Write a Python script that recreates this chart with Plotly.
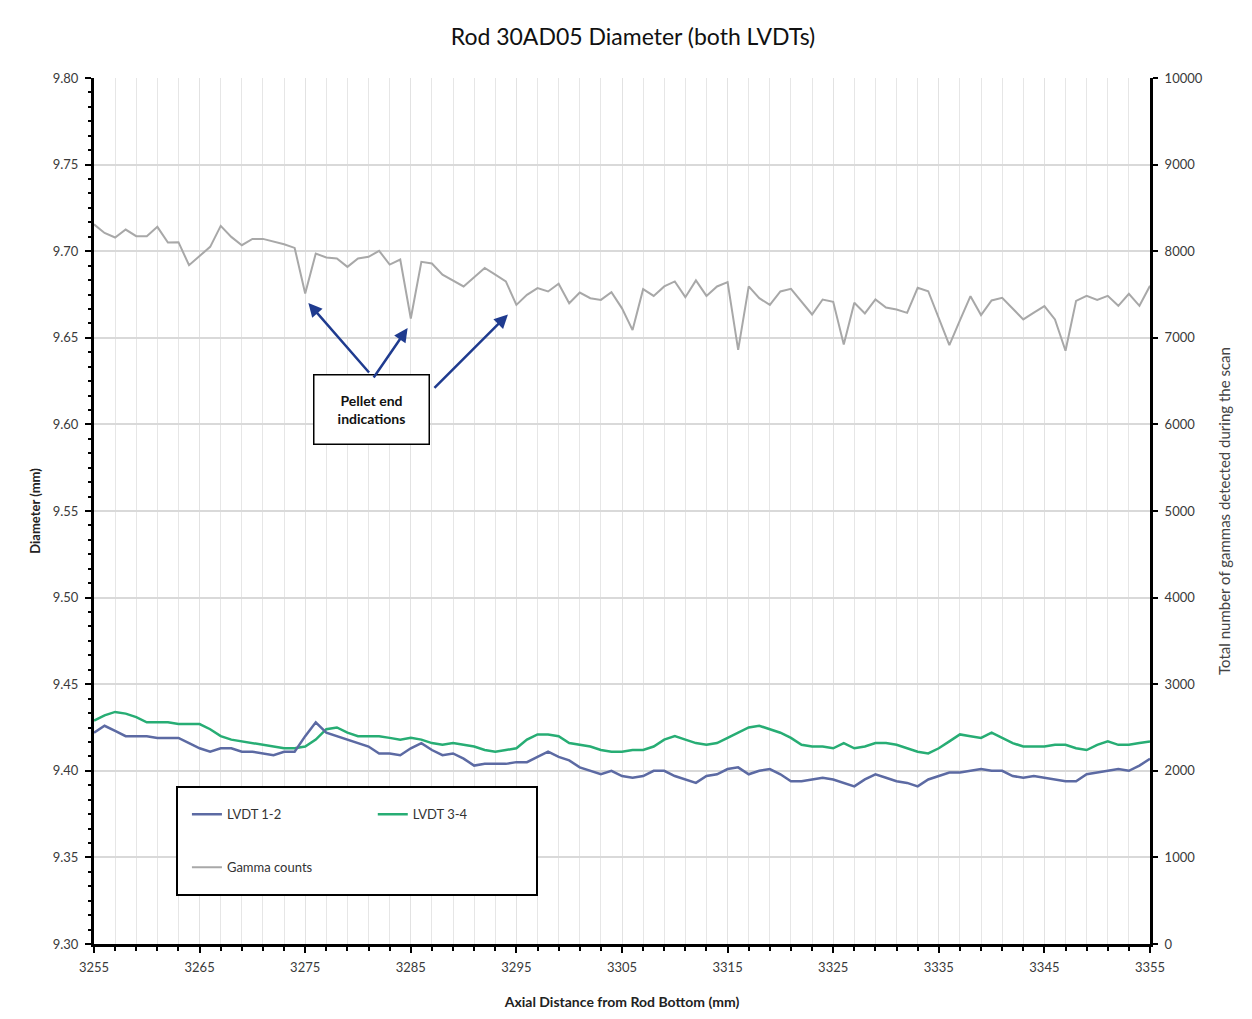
import plotly.graph_objects as go

# Axial positions of the scan (mm from rod bottom), 1 mm steps
axial_mm = list(range(3255, 3356))

# Diameter from LVDT pair 1-2 (mm)
lvdt_12 = [
    9.422, 9.426, 9.423, 9.420, 9.420, 9.420, 9.419, 9.419, 9.419, 9.416,
    9.413, 9.411, 9.413, 9.413, 9.411, 9.411, 9.410, 9.409, 9.411, 9.411,
    9.420, 9.428, 9.422, 9.420, 9.418, 9.416, 9.414, 9.410, 9.410, 9.409,
    9.413, 9.416, 9.412, 9.409, 9.410, 9.407, 9.403, 9.404, 9.404, 9.404,
    9.405, 9.405, 9.408, 9.411, 9.408, 9.406, 9.402, 9.400, 9.398, 9.400,
    9.397, 9.396, 9.397, 9.400, 9.400, 9.397, 9.395, 9.393, 9.397, 9.398,
    9.401, 9.402, 9.398, 9.400, 9.401, 9.398, 9.394, 9.394, 9.395, 9.396,
    9.395, 9.393, 9.391, 9.395, 9.398, 9.396, 9.394, 9.393, 9.391, 9.395,
    9.397, 9.399, 9.399, 9.400, 9.401, 9.400, 9.400, 9.397, 9.396, 9.397,
    9.396, 9.395, 9.394, 9.394, 9.398, 9.399, 9.400, 9.401, 9.400, 9.403,
    9.407,
]

# Diameter from LVDT pair 3-4 (mm)
lvdt_34 = [
    9.429, 9.432, 9.434, 9.433, 9.431, 9.428, 9.428, 9.428, 9.427, 9.427,
    9.427, 9.424, 9.420, 9.418, 9.417, 9.416, 9.415, 9.414, 9.413, 9.413,
    9.414, 9.418, 9.424, 9.425, 9.422, 9.420, 9.420, 9.420, 9.419, 9.418,
    9.419, 9.418, 9.416, 9.415, 9.416, 9.415, 9.414, 9.412, 9.411, 9.412,
    9.413, 9.418, 9.421, 9.421, 9.420, 9.416, 9.415, 9.414, 9.412, 9.411,
    9.411, 9.412, 9.412, 9.414, 9.418, 9.420, 9.418, 9.416, 9.415, 9.416,
    9.419, 9.422, 9.425, 9.426, 9.424, 9.422, 9.419, 9.415, 9.414, 9.414,
    9.413, 9.416, 9.413, 9.414, 9.416, 9.416, 9.415, 9.413, 9.411, 9.410,
    9.413, 9.417, 9.421, 9.420, 9.419, 9.422, 9.419, 9.416, 9.414, 9.414,
    9.414, 9.415, 9.415, 9.413, 9.412, 9.415, 9.417, 9.415, 9.415, 9.416,
    9.417,
]

# Total gamma counts detected at each position
gamma_counts = [
    8310, 8210, 8158, 8250, 8173, 8173, 8281, 8100, 8104, 7838,
    7945, 8050, 8292, 8165, 8069, 8142, 8142, 8115, 8080, 8038,
    7512, 7973, 7927, 7915, 7819, 7915, 7935, 8004, 7846, 7904,
    7223, 7877, 7858, 7730, 7660, 7593, 7700, 7806, 7730, 7651,
    7380, 7496, 7574, 7535, 7624, 7399, 7523, 7457, 7438, 7527,
    7340, 7089, 7562, 7484, 7593, 7651, 7469, 7663, 7484, 7593,
    7643, 6860, 7593, 7457, 7380, 7535, 7565, 7420, 7269, 7442,
    7415, 6923, 7404, 7281, 7442, 7350, 7327, 7288, 7577, 7538,
    7230, 6915, 7200, 7481, 7262, 7431, 7462, 7340, 7212, 7290,
    7365, 7212, 6850, 7427, 7485, 7438, 7485, 7369, 7508, 7369,
    7600,
]

# Pellet ends flagged with arrows
pellet_ends = [3275, 3285, 3295]

x_ticks = list(range(3255, 3356, 10))
y_ticks = [9.30, 9.35, 9.40, 9.45, 9.50, 9.55, 9.60, 9.65, 9.70, 9.75, 9.80]
y2_ticks = list(range(0, 10001, 1000))

FONT = "Lato"
BLUE = "#5c6aa3"
GREEN = "#27ad74"
GREY = "#a8a8a8"
TICKCOL = "#3a3a3a"

fig = go.Figure()

fig.add_trace(go.Scatter(
    x=axial_mm, y=gamma_counts, name="Gamma counts", mode="lines",
    line=dict(color=GREY, width=2), yaxis="y2",
    legend="legend", legendgroup="g", legendrank=3,
))
fig.add_trace(go.Scatter(
    x=axial_mm, y=lvdt_34, name="LVDT 3-4", mode="lines",
    line=dict(color=GREEN, width=2.5),
    legend="legend2", legendgroup="b",
))
fig.add_trace(go.Scatter(
    x=axial_mm, y=lvdt_12, name="LVDT 1-2", mode="lines",
    line=dict(color=BLUE, width=2.5),
    legend="legend", legendgroup="a", legendrank=1,
))

legend_style = dict(
    orientation="v", xanchor="left", yanchor="top",
    bgcolor="rgba(0,0,0,0)", borderwidth=0,
    font=dict(family=FONT, size=13, color="#333333"),
    itemwidth=30, tracegroupgap=33, traceorder="grouped",
)

fig.update_layout(
    width=1252, height=1019,
    margin=dict(l=94, r=102, t=78, b=75),
    paper_bgcolor="white", plot_bgcolor="white",
    font=dict(family=FONT, size=13, color=TICKCOL),
    title=dict(
        text="Rod 30AD05 Diameter (both LVDTs)",
        x=(633 / 1252), xanchor="center", y=1 - 37 / 1019, yanchor="middle",
        font=dict(family=FONT, size=23, color="#111111"),
    ),
    legend=dict(x=0.088, y=0.167, **legend_style),
    legend2=dict(x=0.264, y=0.167, **legend_style),
    xaxis=dict(
        range=[3255, 3355], tickmode="array", tickvals=x_ticks,
        ticks="outside", ticklen=6, tickwidth=2, tickcolor="black",
        showline=True, linecolor="black", linewidth=3,
        showgrid=True, gridcolor="#e2e2e2", gridwidth=1,
        minor=dict(dtick=2, tick0=3255, ticks="outside", ticklen=4,
                   tickwidth=2, tickcolor="black",
                   showgrid=True, gridcolor="#e6e6e6", gridwidth=1),
        tickfont=dict(family=FONT, size=13, color=TICKCOL),
        ticklabelstandoff=3,
        zeroline=False,
        title=dict(text="<b>Axial Distance from Rod Bottom (mm)</b>",
                   font=dict(family=FONT, size=14, color="#222222"),
                   standoff=24),
    ),
    yaxis=dict(
        range=[9.30, 9.80], tickmode="array", tickvals=y_ticks,
        tickformat=".2f",
        ticks="outside", ticklen=6, tickwidth=2, tickcolor="black",
        showline=True, linecolor="black", linewidth=3,
        showgrid=True, gridcolor="#d9d9d9", gridwidth=1.5,
        minor=dict(dtick=0.05 / 6, tick0=9.30, ticks="outside", ticklen=3,
                   tickwidth=2, tickcolor="black", showgrid=False),
        tickfont=dict(family=FONT, size=13, color=TICKCOL),
        ticklabelstandoff=4,
        zeroline=False,
        title=dict(text="<b>Diameter (mm)</b>",
                   font=dict(family=FONT, size=13, color="#222222"),
                   standoff=10),
    ),
    yaxis2=dict(
        range=[0, 10000], tickmode="array", tickvals=y2_ticks,
        ticktext=[str(v) for v in y2_ticks],
        overlaying="y", side="right",
        ticks="outside", ticklen=5, tickwidth=2, tickcolor="black",
        showline=True, linecolor="black", linewidth=3,
        showgrid=False, zeroline=False,
        tickfont=dict(family=FONT, size=13, color=TICKCOL),
        ticklabelstandoff=4,
        title=dict(text="Total number of gammas detected during the scan",
                   font=dict(family=FONT, size=15, color="#444444"),
                   standoff=18),
    ),
)

# Frame around the legend entries
fig.add_shape(
    type="rect", xref="paper", yref="paper",
    x0=(177 - 94) / 1056, x1=(537 - 94) / 1056,
    y0=(944 - 895) / 866, y1=(944 - 787) / 866,
    line=dict(color="black", width=2), fillcolor="white", layer="above",
)

# Callout box and arrows to the pellet-end dips in the gamma trace
fig.add_annotation(
    x=3281.3, y=9.6085, xref="x", yref="y",
    text="<b>Pellet end<br>indications</b>", showarrow=False,
    font=dict(family=FONT, size=14, color="#111111"),
    bgcolor="white", bordercolor="black", borderwidth=1.5,
    width=112, height=66, align="center",
)
arrow_tails = [(62, 71), (-35, 51), (-75, 75)]
tip_shift = [0.3, -0.3, -0.8]
idx = {v: i for i, v in enumerate(axial_mm)}
for pe, (ax, ay), dx in zip(pellet_ends, arrow_tails, tip_shift):
    fig.add_annotation(
        x=pe + dx, y=gamma_counts[idx[pe]] - 110, xref="x", yref="y2",
        text="", showarrow=True, arrowhead=2, arrowsize=1.1,
        arrowwidth=2.5, arrowcolor="#1f3b8f", ax=ax, ay=ay,
        axref="pixel", ayref="pixel", standoff=0,
    )

fig.write_html("out.html")
